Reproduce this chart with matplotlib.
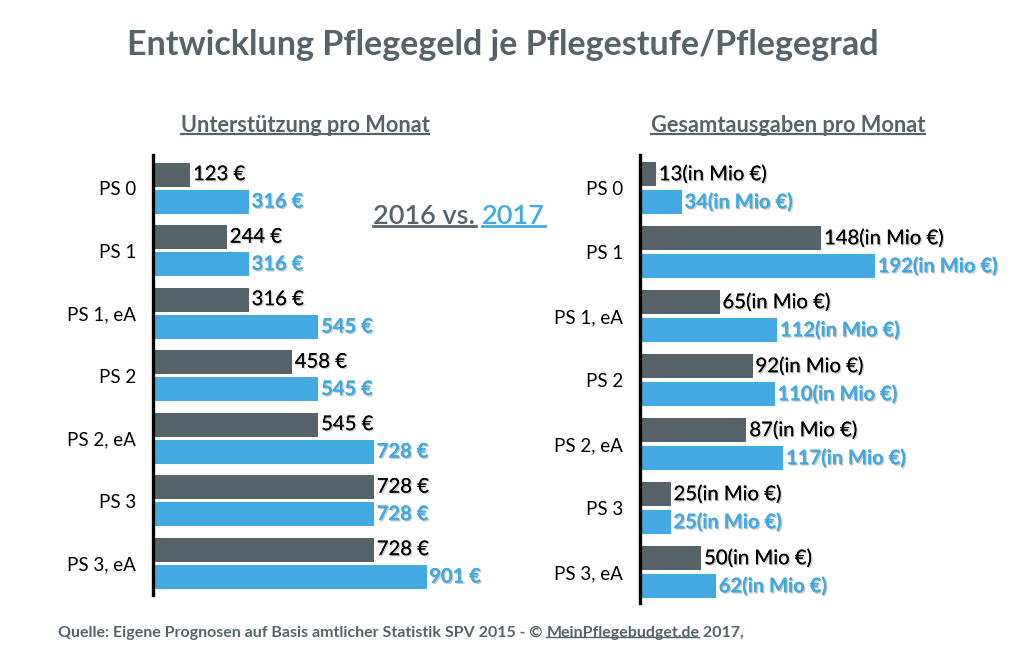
import matplotlib
matplotlib.use("Agg")
import matplotlib.pyplot as plt
import matplotlib.patheffects as pe
import numpy as np

plt.rcParams['font.family'] = ['Lato', 'DejaVu Sans']

categories = ["PS 0", "PS 1", "PS 1, eA", "PS 2", "PS 2, eA", "PS 3", "PS 3, eA"]
monat_2016 = [123, 244, 316, 458, 545, 728, 728]
monat_2017 = [316, 316, 545, 545, 728, 728, 901]
gesamt_2016 = [13, 148, 65, 92, 87, 25, 50]
gesamt_2017 = [34, 192, 112, 110, 117, 25, 62]

DARK = "#566369"
BLUE = "#42a9e1"
W, H = 1022, 670

fig = plt.figure(figsize=(W / 100, H / 100), dpi=100)


def px_axes(x0, y0, x1, y1):
    # pixel box (top-left origin) -> axes
    return fig.add_axes([x0 / W, 1 - y1 / H, (x1 - x0) / W, (y1 - y0) / H])


def underline(text, color, lw=1.6, pad=3):
    fig.canvas.draw()
    bb = text.get_window_extent()
    y = bb.y0 - pad + 6
    fig.add_artist(plt.Line2D([bb.x0 / W, bb.x1 / W], [y / H, y / H],
                              color=color, lw=lw, transform=fig.transFigure))


shadow = [pe.withSimplePatchShadow(offset=(1, -1), shadow_rgbFace="#999999", alpha=0.5), pe.Normal()]


def draw_panel(ax, v16, v17, xmax, ylim, fmt, off_px, hgt):
    y = np.arange(len(categories))
    ax.barh(y - off_px, v16, height=hgt, color=DARK)
    ax.barh(y + off_px, v17, height=hgt, color=BLUE)
    ax.set_xlim(0, xmax)
    ax.set_ylim(*ylim)
    ax.set_yticks(y)
    ax.set_yticklabels(categories, fontsize=13.5, color="black")
    ax.tick_params(axis="y", length=0, pad=12)
    ax.set_xticks([])
    for s in ["top", "right", "bottom"]:
        ax.spines[s].set_visible(False)
    ax.spines["left"].set_linewidth(2.4)
    ax.spines["left"].set_color("black")
    dx = xmax * 0.008
    for i in range(len(categories)):
        ax.text(v16[i] + dx, y[i] - off_px, fmt(v16[i]), va="center", ha="left",
                fontsize=14.6, color="black", path_effects=shadow)
        ax.text(v17[i] + dx, y[i] + off_px, fmt(v17[i]), va="center", ha="left",
                fontsize=14.5, color=BLUE, fontweight="bold", path_effects=shadow)


ax1 = px_axes(153, 155, 487, 595)
draw_panel(ax1, monat_2016, monat_2017, 1100, (6.51, -0.53),
           lambda v: f"{v} €", 0.216, 0.384)

ax2 = px_axes(640, 155, 1007, 603)
draw_panel(ax2, gesamt_2016, gesamt_2017, 300, (6.48, -0.52),
           lambda v: f"{v}(in Mio €)", 0.219, 0.375)

fig.text(503 / W, 1 - 45 / H, "Entwicklung Pflegegeld je Pflegestufe/Pflegegrad",
         ha="center", va="center", fontsize=24.5, fontweight="bold", color=DARK)

t1 = fig.text(305 / W, 1 - 126 / H, "Unterstützung pro Monat", ha="center", va="center",
              fontsize=15.7, fontweight="bold", color=DARK)
t2 = fig.text(788 / W, 1 - 126 / H, "Gesamtausgaben pro Monat", ha="center", va="center",
              fontsize=15.7, fontweight="bold", color=DARK)

v1 = fig.text(373 / W, 1 - 216 / H, "2016 vs. ", ha="left", va="center",
              fontsize=19.5, fontweight="semibold", color=DARK)
fig.canvas.draw()
bb = v1.get_window_extent()
v2 = fig.text(bb.x1 / W, 1 - 216 / H, "2017", ha="left", va="center",
              fontsize=19.5, fontweight="semibold", color=BLUE)

src = fig.text(58 / W, 1 - 633 / H,
               "Quelle: Eigene Prognosen auf Basis amtlicher Statistik SPV 2015 - © ",
               ha="left", va="center", fontsize=11.5, fontweight="bold", color=DARK)
fig.canvas.draw()
bb = src.get_window_extent()
link = fig.text(bb.x1 / W, 1 - 633 / H, "MeinPflegebudget.de", ha="left", va="center",
                fontsize=11.5, fontweight="bold", color=DARK)
fig.canvas.draw()
bb = link.get_window_extent()
fig.text(bb.x1 / W, 1 - 633 / H, " 2017,", ha="left", va="center",
         fontsize=11.5, fontweight="bold", color=DARK)

underline(t1, DARK)
underline(t2, DARK)
underline(link, DARK, lw=1.0)

# "2016 vs." underline, "2017" underline in blue
fig.canvas.draw()
b1 = v1.get_window_extent()
b2 = v2.get_window_extent()
yl = (b1.y0 + 3) / H
fig.add_artist(plt.Line2D([b1.x0 / W, (b1.x1 - 6) / W], [yl, yl], color=DARK, lw=2,
                          transform=fig.transFigure))
fig.add_artist(plt.Line2D([b2.x0 / W, b2.x1 / W], [yl, yl], color=BLUE, lw=2,
                          transform=fig.transFigure))

fig.savefig("out.png", dpi=100)
